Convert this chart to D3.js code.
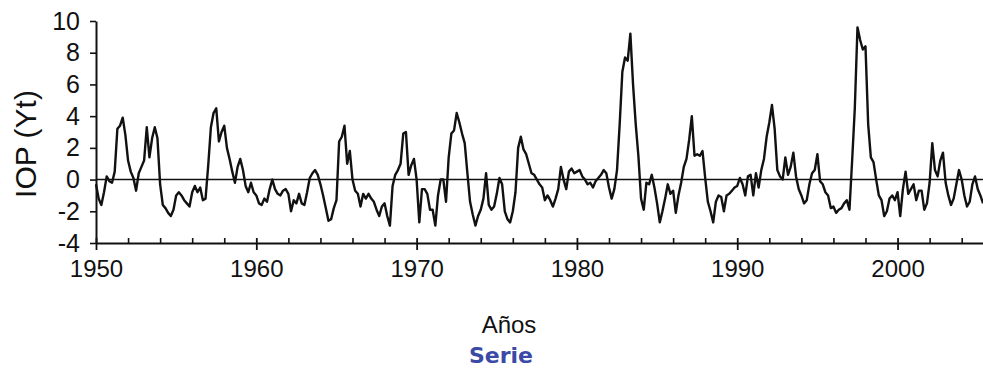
<!DOCTYPE html>
<html><head><meta charset="utf-8">
<script src="https://cdn.jsdelivr.net/npm/d3@7/dist/d3.min.js"></script>
<style>body{margin:0;background:#fff;overflow:hidden}</style>
</head><body>
<svg id="chart" width="983" height="368"></svg>
<script>
// Data: IOP (Yt) bimonthly readings, 6 samples per year starting 1950
const startYear = 1950;
const samplesPerYear = 6;
const iop = [
  -0.3,-1.2,-1.6,-0.8, 0.2,-0.1,   // 1950
  -0.2, 0.5, 3.2, 3.4, 3.9, 2.8,   // 1951
   1.2, 0.5, 0.1,-0.7, 0.4, 0.8,   // 1952
   1.2, 3.3, 1.4, 2.6, 3.3, 2.6,   // 1953
  -0.3,-1.6,-1.8,-2.1,-2.3,-1.9,   // 1954
  -1.0,-0.8,-1.0,-1.3,-1.5,-1.7,   // 1955
  -0.8,-0.4,-0.8,-0.5,-1.3,-1.2,   // 1956
   0.9, 3.3, 4.2, 4.5, 2.4, 3.0,   // 1957
   3.4, 2.0, 1.3, 0.5,-0.2, 0.8,   // 1958
   1.3, 0.6,-0.4,-0.8,-0.2,-0.8,   // 1959
  -1.0,-1.5,-1.6,-1.2,-1.4,-0.6,   // 1960
   0.0,-0.6,-0.9,-1.0,-0.7,-0.6,   // 1961
  -0.9,-2.0,-1.3,-1.5,-0.9,-1.5,   // 1962
  -1.6,-0.8, 0.1, 0.4, 0.6, 0.3,   // 1963
  -0.3,-1.0,-1.8,-2.6,-2.5,-1.8,   // 1964
  -1.3, 2.4, 2.7, 3.4, 1.0, 1.8,   // 1965
   0.0,-0.7,-0.9,-1.7,-0.9,-1.2,   // 1966
  -0.9,-1.2,-1.4,-1.9,-2.3,-1.7,   // 1967
  -1.5,-2.3,-2.9,-0.4, 0.3, 0.6,   // 1968
   1.0, 2.9, 3.0, 0.3, 0.9, 1.3,   // 1969
   0.0,-2.7,-0.6,-0.6,-0.9,-1.9,   // 1970
  -1.9,-2.9,-1.0, 0.0, 0.0,-1.4,   // 1971
   1.4, 2.9, 3.1, 4.2, 3.6, 2.9,   // 1972
   2.3, 0.4,-1.4,-2.2,-2.9,-2.3,   // 1973
  -1.9,-1.2, 0.4,-1.6,-1.9,-1.7,   // 1974
  -0.9, 0.1,-0.3,-2.0,-2.5,-2.7,   // 1975
  -2.0,-0.8, 2.0, 2.7, 1.9, 1.6,   // 1976
   1.0, 0.4, 0.3, 0.0,-0.3,-0.5,   // 1977
  -1.3,-1.0,-1.3,-1.7,-1.2,-0.6,   // 1978
   0.8, 0.0,-0.6, 0.5, 0.7, 0.4,   // 1979
   0.5, 0.6, 0.2, 0.0,-0.3,-0.2,   // 1980
  -0.5,-0.1, 0.1, 0.3, 0.6, 0.4,   // 1981
  -0.5,-1.2,-0.6, 0.6, 3.5, 6.8,   // 1982
   7.7, 7.5, 9.2, 6.0, 3.5, 1.5,   // 1983
  -1.2,-1.9,-0.2,-0.3, 0.3,-0.5,   // 1984
  -1.5,-2.7,-2.0,-1.2,-0.3,-0.9,   // 1985
  -0.7,-2.1,-1.0,-0.2, 0.8, 1.3,   // 1986
   2.5, 4.0, 1.5, 1.6, 1.5, 1.8,   // 1987
   0.1,-1.4,-2.0,-2.7,-1.4,-1.0,   // 1988
  -1.1,-2.0,-1.0,-0.9,-0.7,-0.5,   // 1989
  -0.4, 0.1,-0.3,-1.0, 0.2, 0.3,   // 1990
  -1.0, 0.4,-0.5, 0.6, 1.3, 2.7,   // 1991
   3.6, 4.7, 3.2, 0.6, 0.2, 0.0,   // 1992
   1.4, 0.3, 0.8, 1.7, 0.2,-0.6,   // 1993
  -1.0,-1.5,-1.3,-0.3, 0.4, 0.6,   // 1994
   1.6,-0.1,-0.3,-0.8,-1.0,-1.8,   // 1995
  -1.7,-2.1,-1.9,-1.8,-1.5,-1.3,   // 1996
  -1.9, 1.2, 4.5, 9.6, 8.8, 8.2,   // 1997
   8.4, 3.5, 1.4, 1.1, 0.0,-1.0,   // 1998
  -1.3,-2.3,-2.0,-1.2,-1.0,-1.3,   // 1999
  -0.8,-2.3,-0.6, 0.5,-0.9,-0.6,   // 2000
  -0.3,-1.3,-0.7,-0.7,-1.9,-1.5,   // 2001
  -0.2, 2.3, 0.6, 0.2, 1.2, 1.7,   // 2002
  -0.2,-1.0,-1.6,-1.2,-0.3, 0.6,   // 2003
   0.0,-1.0,-1.7,-1.4,-0.3, 0.2,   // 2004
  -0.6,-1.0,-1.5                   // 2005
];
const yTicks = [-4, -2, 0, 2, 4, 6, 8, 10];
const xMajorTicks = [1950, 1960, 1970, 1980, 1990, 2000];
const xMinorTicks = [1952,1954,1956,1958,1962,1964,1966,1968,1972,1974,1976,1978,
                     1982,1984,1986,1988,1992,1994,1996,1998,2002,2004];
const xTitle = "Años";
const yTitle = "IOP (Yt)";
const caption = "Serie";

const svg = d3.select("#chart");
const x = d3.scaleLinear().domain([1950, 2005.33]).range([96, 983]);
const y = d3.scaleLinear().domain([-4, 10]).range([243, 21]);
const plainNum = d => String(d);

// zero line
svg.append("line")
  .attr("x1", x(1950)).attr("x2", 983)
  .attr("y1", y(0)).attr("y2", y(0))
  .attr("stroke", "#111").attr("stroke-width", 1.6);

// series line
svg.append("path")
  .datum(iop)
  .attr("fill", "none")
  .attr("stroke", "#111")
  .attr("stroke-width", 2.4)
  .attr("stroke-linejoin", "round")
  .attr("d", d3.line()
    .x((d, i) => x(startYear + i / samplesPerYear))
    .y(d => y(d)));

// y axis
const yAxis = svg.append("g")
  .attr("transform", `translate(${x(1950)},0)`)
  .call(d3.axisLeft(y).tickValues(yTicks).tickSize(6).tickSizeOuter(0)
        .tickPadding(10).tickFormat(plainNum));
yAxis.select(".domain").attr("stroke", "#111").attr("stroke-width", 2);
yAxis.selectAll(".tick line").attr("stroke", "#111").attr("stroke-width", 1.6);
yAxis.selectAll(".tick text")
  .attr("font-family", "'Liberation Sans', Arial, sans-serif")
  .attr("font-size", 25).attr("fill", "#111");

// x axis: minor ticks (inside)
const xMinor = svg.append("g")
  .attr("transform", `translate(0,${y(-4)})`)
  .call(d3.axisBottom(x).tickValues(xMinorTicks).tickSize(-5).tickSizeOuter(0).tickFormat(""));
xMinor.select(".domain").attr("stroke", "#111").attr("stroke-width", 2);
xMinor.selectAll(".tick line").attr("stroke", "#111").attr("stroke-width", 1.6);

// x axis: major ticks and labels
const xMajor = svg.append("g")
  .attr("transform", `translate(0,${y(-4)})`)
  .call(d3.axisBottom(x).tickValues(xMajorTicks).tickSize(7).tickSizeOuter(0)
        .tickFormat(plainNum).tickPadding(10));
xMajor.select(".domain").remove();
xMajor.selectAll(".tick line").attr("y1", -5).attr("stroke", "#111").attr("stroke-width", 1.8);
xMajor.selectAll(".tick text")
  .attr("font-family", "'Liberation Sans', Arial, sans-serif")
  .attr("font-size", 24).attr("fill", "#111");

// titles
svg.append("text")
  .attr("transform", `translate(36,${(y(-4) + y(10)) / 2 + 12}) rotate(-90)`)
  .attr("text-anchor", "middle")
  .attr("font-family", "'Liberation Sans', Arial, sans-serif")
  .attr("font-size", 30).attr("fill", "#111")
  .text(yTitle);

svg.append("text")
  .attr("x", 509).attr("y", 333)
  .attr("text-anchor", "middle")
  .attr("font-family", "'Liberation Sans', Arial, sans-serif")
  .attr("font-size", 24).attr("fill", "#111")
  .text(xTitle);

svg.append("text")
  .attr("x", 501).attr("y", 363)
  .attr("text-anchor", "middle")
  .attr("font-family", "'DejaVu Sans', Verdana, sans-serif")
  .attr("font-weight", "bold")
  .attr("font-size", 22).attr("fill", "#3a4aa6")
  .text(caption);
</script>
</body></html>
